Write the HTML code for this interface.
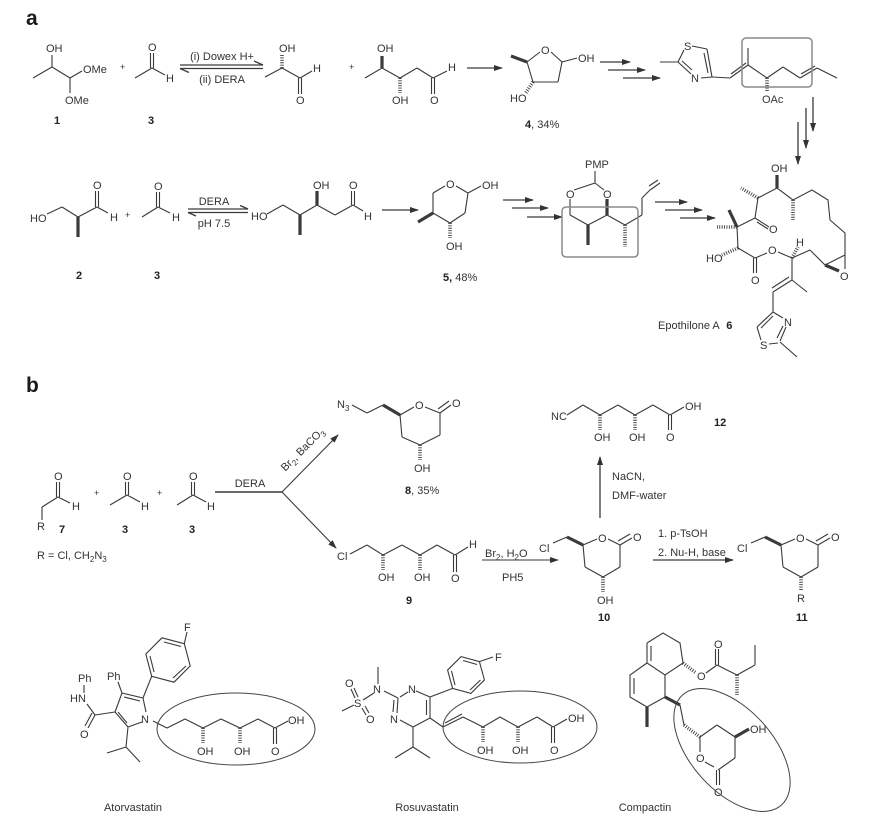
<!DOCTYPE html>
<html><head><meta charset="utf-8">
<style>
html,body{margin:0;padding:0;background:#fff;}
svg{display:block;}
text{font-family:"Liberation Sans",Arial,sans-serif;font-size:11px;fill:#333;}
.b{font-weight:bold;fill:#222;}
.L{font-weight:bold;font-size:21px;fill:#1a1a1a;}
line,polyline,path.s{stroke:#3a3a3a;stroke-width:1.1;fill:none;}
.w{stroke-width:3.2 !important;}
.h{stroke-width:3.6 !important;stroke-dasharray:0.9 1.5;}
.ar{stroke-width:1.3 !important;}
</style></head><body>
<svg width="873" height="816" viewBox="0 0 873 816" xmlns="http://www.w3.org/2000/svg">
<defs>
<marker id="ah" markerUnits="userSpaceOnUse" markerWidth="9" markerHeight="7" refX="8" refY="3.5" orient="auto"><path d="M0,0.5 L9,3.5 L0,6.5 z" fill="#333"/></marker>
</defs>

<!-- ===== a ===== -->
<text x="26" y="25" class="L">a</text>

<!-- compound 1 -->
<line x1="33" y1="78" x2="52" y2="67"/><line x1="52" y1="67" x2="52" y2="55"/>
<line x1="52" y1="67" x2="70" y2="78"/><line x1="70" y1="78" x2="82" y2="71"/>
<line x1="70" y1="78" x2="70" y2="93"/>
<text x="46" y="52">OH</text><text x="83" y="73">OMe</text><text x="65" y="104">OMe</text>
<text x="54" y="124" class="b">1</text>
<text x="120" y="70" style="font-size:9px">+</text>
<!-- 3 -->
<line x1="135" y1="78" x2="152" y2="68"/><line x1="150.5" y1="68" x2="150.5" y2="53"/><line x1="153.5" y1="68" x2="153.5" y2="53"/>
<line x1="152" y1="68" x2="165" y2="75"/>
<text x="148" y="51">O</text><text x="166" y="82">H</text>
<text x="148" y="124" class="b">3</text>
<!-- equilibrium -->
<line class="ar" x1="180" y1="65" x2="263" y2="65"/><line class="ar" x1="263" y1="65" x2="254" y2="61"/>
<line class="ar" x1="180" y1="68.5" x2="263" y2="68.5"/><line class="ar" x1="180" y1="68.5" x2="189" y2="72.5"/>
<text x="222" y="60" text-anchor="middle">(i) Dowex H+</text>
<text x="222" y="83" text-anchor="middle">(ii) DERA</text>
<!-- lactaldehyde -->
<line x1="265" y1="77" x2="282" y2="68"/><line class="h" x1="282" y1="68" x2="282" y2="55"/>
<line x1="282" y1="68" x2="300" y2="78"/><line x1="300" y1="78" x2="312" y2="71"/>
<line x1="298.5" y1="78" x2="298.5" y2="94"/><line x1="301.5" y1="78" x2="301.5" y2="94"/>
<text x="279" y="52">OH</text><text x="313" y="72">H</text><text x="296" y="104">O</text>
<text x="349" y="70" style="font-size:9px">+</text>
<!-- deoxy -->
<line x1="365" y1="78" x2="382" y2="68"/><line class="w" x1="382" y1="68" x2="382" y2="56"/>
<line x1="382" y1="68" x2="400" y2="78"/><line class="h" x1="400" y1="78" x2="400" y2="93"/>
<line x1="400" y1="78" x2="417" y2="68"/><line x1="417" y1="68" x2="433" y2="78"/><line x1="433" y1="78" x2="447" y2="71"/>
<line x1="431.5" y1="78" x2="431.5" y2="94"/><line x1="434.5" y1="78" x2="434.5" y2="94"/>
<text x="377" y="52">OH</text><text x="392" y="104">OH</text><text x="448" y="71">H</text><text x="430" y="104">O</text>
<line class="ar" x1="467" y1="68" x2="502" y2="68" marker-end="url(#ah)"/>
<!-- 4 -->
<line x1="527" y1="62" x2="540" y2="52"/><line x1="551" y1="52" x2="562" y2="62"/>
<line x1="562" y1="62" x2="558" y2="82"/><line x1="558" y1="82" x2="533" y2="82"/><line x1="533" y1="82" x2="527" y2="62"/>
<line class="w" x1="527" y1="62" x2="511" y2="56"/><line x1="562" y1="62" x2="577" y2="58"/>
<line class="h" x1="533" y1="82" x2="525" y2="94"/>
<text x="541" y="54">O</text><text x="578" y="62">OH</text><text x="510" y="102">HO</text>
<text x="525" y="128"><tspan class="b">4</tspan>, 34%</text>
<line class="ar" x1="600" y1="62" x2="630" y2="62" marker-end="url(#ah)"/>
<line class="ar" x1="608" y1="70" x2="645" y2="70" marker-end="url(#ah)"/>
<line class="ar" x1="623" y1="78" x2="660" y2="78" marker-end="url(#ah)"/>
<!-- thiazole fragment -->
<line x1="660" y1="62" x2="678" y2="62"/><line x1="678" y1="62" x2="684" y2="50"/>
<line x1="692" y1="46" x2="707" y2="49"/><line x1="707" y1="49" x2="712" y2="77"/><line x1="704" y1="53" x2="708" y2="73"/>
<line x1="712" y1="77" x2="701" y2="78"/><line x1="691" y1="74" x2="678" y2="62"/><line x1="692" y1="70" x2="682" y2="61"/>
<text x="684" y="50">S</text><text x="691" y="82">N</text>
<line x1="712" y1="77" x2="730" y2="78"/><line x1="730" y1="78" x2="748" y2="65"/><line x1="731" y1="74" x2="746" y2="63"/>
<line x1="748" y1="65" x2="748" y2="48"/><line x1="748" y1="65" x2="767" y2="78"/>
<line class="h" x1="767" y1="78" x2="767" y2="92"/>
<line x1="767" y1="78" x2="783" y2="67"/><line x1="783" y1="67" x2="800" y2="78"/><line x1="800" y1="78" x2="817" y2="68"/><line x1="801" y1="74" x2="815" y2="66"/>
<line x1="817" y1="68" x2="837" y2="78"/>
<text x="762" y="103">OAc</text>
<rect x="742" y="38" width="70" height="49" rx="4" fill="none" stroke="#8a8a8a" stroke-width="1.5"/>
<line class="ar" x1="813" y1="97" x2="813" y2="131" marker-end="url(#ah)"/>
<line class="ar" x1="806" y1="108" x2="806" y2="148" marker-end="url(#ah)"/>
<line class="ar" x1="798" y1="122" x2="798" y2="164" marker-end="url(#ah)"/>

<!-- row 2 -->
<!-- 2 -->
<line x1="47" y1="214" x2="62" y2="207"/><line x1="62" y1="207" x2="78" y2="217"/><line class="w" x1="78" y1="217" x2="78" y2="237"/>
<line x1="78" y1="217" x2="97" y2="207"/><line x1="95.5" y1="207" x2="95.5" y2="191"/><line x1="98.5" y1="207" x2="98.5" y2="191"/>
<line x1="97" y1="207" x2="108" y2="213"/>
<text x="30" y="222">HO</text><text x="93" y="189">O</text><text x="110" y="221">H</text>
<text x="76" y="279" class="b">2</text>
<text x="125" y="218" style="font-size:9px">+</text>
<line x1="142" y1="217" x2="158" y2="207"/><line x1="156.5" y1="207" x2="156.5" y2="192"/><line x1="159.5" y1="207" x2="159.5" y2="192"/>
<line x1="158" y1="207" x2="170" y2="213"/>
<text x="154" y="190">O</text><text x="172" y="221">H</text>
<text x="154" y="279" class="b">3</text>
<line class="ar" x1="188" y1="209" x2="248" y2="209"/><line class="ar" x1="248" y1="209" x2="240" y2="205.5"/>
<line class="ar" x1="188" y1="212.5" x2="248" y2="212.5"/><line class="ar" x1="188" y1="212.5" x2="196" y2="216"/>
<text x="214" y="205" text-anchor="middle">DERA</text><text x="214" y="227" text-anchor="middle">pH 7.5</text>
<!-- aldol product -->
<line x1="267" y1="214" x2="283" y2="205"/><line x1="283" y1="205" x2="300" y2="215"/><line class="w" x1="300" y1="215" x2="300" y2="235"/>
<line x1="300" y1="215" x2="317" y2="205"/><line class="w" x1="317" y1="205" x2="317" y2="191"/>
<line x1="317" y1="205" x2="335" y2="215"/><line x1="335" y1="215" x2="353" y2="205"/>
<line x1="351.5" y1="205" x2="351.5" y2="191"/><line x1="354.5" y1="205" x2="354.5" y2="191"/><line x1="353" y1="205" x2="363" y2="211"/>
<text x="251" y="220">HO</text><text x="313" y="189">OH</text><text x="349" y="189">O</text><text x="364" y="220">H</text>
<line class="ar" x1="382" y1="210" x2="418" y2="210" marker-end="url(#ah)"/>
<!-- 5 -->
<line x1="433" y1="193" x2="445" y2="186"/><line x1="456" y1="186" x2="468" y2="193"/>
<line x1="468" y1="193" x2="465" y2="213"/><line x1="465" y1="213" x2="450" y2="223"/><line x1="450" y1="223" x2="433" y2="213"/><line x1="433" y1="213" x2="433" y2="193"/>
<line x1="468" y1="193" x2="481" y2="186"/><line class="w" x1="433" y1="213" x2="418" y2="222"/>
<line class="h" x1="450" y1="223" x2="450" y2="238"/>
<text x="446" y="188">O</text><text x="482" y="189">OH</text><text x="446" y="250">OH</text>
<text x="443" y="281"><tspan class="b">5,</tspan> 48%</text>
<line class="ar" x1="503" y1="200" x2="533" y2="200" marker-end="url(#ah)"/>
<line class="ar" x1="512" y1="208" x2="548" y2="208" marker-end="url(#ah)"/>
<line class="ar" x1="527" y1="217" x2="562" y2="217" marker-end="url(#ah)"/>
<!-- PMP acetal -->
<text x="585" y="168">PMP</text>
<line x1="595" y1="171" x2="595" y2="183"/><line x1="595" y1="183" x2="574" y2="190"/><line x1="595" y1="183" x2="604" y2="190"/>
<text x="566" y="198">O</text><text x="603" y="198">O</text>
<line x1="570" y1="199" x2="570" y2="215"/><line x1="570" y1="215" x2="588" y2="225"/><line class="w" x1="588" y1="225" x2="588" y2="245"/>
<line x1="588" y1="225" x2="607" y2="215"/><line class="w" x1="607" y1="215" x2="607" y2="199"/>
<line x1="607" y1="215" x2="625" y2="225"/><line class="h" x1="625" y1="225" x2="625" y2="247"/>
<line x1="625" y1="225" x2="642" y2="215"/><line x1="642" y1="215" x2="642" y2="198"/><line x1="642" y1="198" x2="650" y2="190"/>
<line x1="650" y1="190" x2="660" y2="183"/><line x1="649" y1="186" x2="658" y2="180"/>
<rect x="562" y="207" width="76" height="50" rx="4" fill="none" stroke="#8a8a8a" stroke-width="1.5"/>
<line class="ar" x1="655" y1="202" x2="687" y2="202" marker-end="url(#ah)"/>
<line class="ar" x1="665" y1="210" x2="702" y2="210" marker-end="url(#ah)"/>
<line class="ar" x1="680" y1="218" x2="715" y2="218" marker-end="url(#ah)"/>
<!-- Epothilone -->
<polyline points="758,198 777,188 793,200 812,190 828,200 830,220 845,233 845,255"/>
<line class="w" x1="777" y1="188" x2="777" y2="175"/>
<text x="771" y="172">OH</text>
<line class="h" x1="758" y1="198" x2="741" y2="188"/>
<line class="h" x1="793" y1="200" x2="793" y2="220"/>
<line x1="758" y1="198" x2="755" y2="218"/>
<line x1="755" y1="218" x2="769" y2="227"/><line x1="757" y1="222" x2="768" y2="229"/>
<text x="769" y="233">O</text>
<line x1="755" y1="218" x2="737" y2="227"/>
<line class="w" x1="737" y1="227" x2="729" y2="210"/><line class="h" x1="737" y1="227" x2="717" y2="227"/>
<line x1="737" y1="227" x2="738" y2="248"/>
<line class="h" x1="738" y1="248" x2="722" y2="255"/><text x="706" y="262">HO</text>
<line x1="738" y1="248" x2="755" y2="258"/>
<line x1="753.5" y1="258" x2="753.5" y2="273"/><line x1="756.5" y1="258" x2="756.5" y2="273"/>
<text x="751" y="284">O</text>
<line x1="755" y1="258" x2="767" y2="253"/><text x="768" y="254">O</text>
<line x1="778" y1="252" x2="792" y2="258"/>
<line class="h" x1="792" y1="258" x2="798" y2="247"/><text x="796" y="246">H</text>
<line x1="792" y1="258" x2="810" y2="250"/><line x1="810" y1="250" x2="825" y2="265"/>
<line x1="825" y1="265" x2="845" y2="255"/><line class="w" x1="825" y1="265" x2="839" y2="271"/><line x1="845" y1="255" x2="845" y2="269"/>
<text x="840" y="280">O</text>
<line x1="792" y1="258" x2="792" y2="280"/><line x1="792" y1="280" x2="807" y2="292"/>
<line x1="792" y1="280" x2="773" y2="292"/><line x1="789" y1="277" x2="772" y2="288"/>
<line x1="773" y1="292" x2="773" y2="312"/>
<line x1="773" y1="312" x2="783" y2="318"/><line x1="786" y1="327" x2="780" y2="341"/><line x1="783" y1="326" x2="777" y2="338"/>
<line x1="778" y1="343" x2="769" y2="344"/><line x1="761" y1="340" x2="757" y2="327"/>
<line x1="757" y1="327" x2="773" y2="312"/><line x1="761" y1="328" x2="773" y2="316"/>
<line x1="780" y1="342" x2="797" y2="357"/>
<text x="784" y="326">N</text><text x="760" y="349">S</text>
<text x="658" y="329">Epothilone A <tspan class="b" dx="4">6</tspan></text>

<!-- ===== b ===== -->
<text x="26" y="392" class="L">b</text>
<!-- 7 -->
<line x1="42" y1="520" x2="42" y2="507"/><line x1="42" y1="507" x2="58" y2="497"/>
<line x1="56.5" y1="497" x2="56.5" y2="482"/><line x1="59.5" y1="497" x2="59.5" y2="482"/><line x1="58" y1="497" x2="70" y2="503"/>
<text x="54" y="480">O</text><text x="72" y="510">H</text><text x="37" y="530">R</text>
<text x="59" y="533" class="b">7</text>
<text x="94" y="496" style="font-size:9px">+</text>
<line x1="110" y1="505" x2="127" y2="495"/><line x1="125.5" y1="495" x2="125.5" y2="482"/><line x1="128.5" y1="495" x2="128.5" y2="482"/><line x1="127" y1="495" x2="140" y2="502"/>
<text x="123" y="480">O</text><text x="141" y="510">H</text><text x="122" y="533" class="b">3</text>
<text x="157" y="496" style="font-size:9px">+</text>
<line x1="177" y1="505" x2="193" y2="495"/><line x1="191.5" y1="495" x2="191.5" y2="482"/><line x1="194.5" y1="495" x2="194.5" y2="482"/><line x1="193" y1="495" x2="206" y2="502"/>
<text x="189" y="480">O</text><text x="207" y="510">H</text><text x="189" y="533" class="b">3</text>
<text x="37" y="559">R = Cl, CH<tspan dy="3" style="font-size:8px">2</tspan><tspan dy="-3">N</tspan><tspan dy="3" style="font-size:8px">3</tspan></text>
<line x1="215" y1="492" x2="282" y2="492" style="stroke-width:1.5"/>
<text x="250" y="487" text-anchor="middle">DERA</text>
<line x1="282" y1="492" x2="338" y2="435" marker-end="url(#ah)"/>
<line x1="282" y1="492" x2="336" y2="548" marker-end="url(#ah)"/>
<text transform="translate(305,452) rotate(-45)" text-anchor="middle">Br<tspan dy="3" style="font-size:8px">2</tspan><tspan dy="-3">, BaCO</tspan><tspan dy="3" style="font-size:8px">3</tspan></text>
<!-- 8 -->
<text x="337" y="408">N<tspan dy="3" style="font-size:8px">3</tspan></text>
<line x1="352" y1="405" x2="367" y2="413"/><line x1="367" y1="413" x2="383" y2="405"/><line class="w" x1="383" y1="405" x2="400" y2="415"/>
<line x1="400" y1="415" x2="414" y2="407"/><line x1="425" y1="407" x2="440" y2="413"/>
<line x1="440" y1="413" x2="451" y2="405"/><line x1="438" y1="409" x2="449" y2="401"/>
<line x1="440" y1="413" x2="440" y2="435"/><line x1="440" y1="435" x2="420" y2="445"/><line x1="420" y1="445" x2="402" y2="437"/><line x1="402" y1="437" x2="400" y2="415"/>
<line class="h" x1="420" y1="445" x2="420" y2="460"/>
<text x="415" y="409">O</text><text x="452" y="407">O</text><text x="414" y="472">OH</text>
<text x="405" y="494"><tspan class="b">8</tspan>, 35%</text>
<!-- 9 -->
<text x="337" y="560">Cl</text>
<line x1="350" y1="554" x2="367" y2="545"/><line x1="367" y1="545" x2="383" y2="555"/><line class="h" x1="383" y1="555" x2="383" y2="570"/>
<line x1="383" y1="555" x2="402" y2="545"/><line x1="402" y1="545" x2="420" y2="555"/><line class="h" x1="420" y1="555" x2="420" y2="570"/>
<line x1="420" y1="555" x2="437" y2="545"/><line x1="437" y1="545" x2="455" y2="555"/>
<line x1="453.5" y1="555" x2="453.5" y2="572"/><line x1="456.5" y1="555" x2="456.5" y2="572"/><line x1="455" y1="555" x2="468" y2="547"/>
<text x="378" y="581">OH</text><text x="414" y="581">OH</text><text x="451" y="582">O</text><text x="469" y="548">H</text>
<text x="406" y="604" class="b">9</text>
<line x1="482" y1="560" x2="558" y2="560" marker-end="url(#ah)"/>
<text x="485" y="557">Br<tspan dy="3" style="font-size:8px">2</tspan><tspan dy="-3">, H</tspan><tspan dy="3" style="font-size:8px">2</tspan><tspan dy="-3">O</tspan></text>
<text x="502" y="581">PH5</text>
<!-- 10 -->
<text x="539" y="552">Cl</text>
<line x1="553" y1="543" x2="567" y2="537"/><line class="w" x1="567" y1="537" x2="583" y2="545"/>
<line x1="583" y1="545" x2="597" y2="539"/><line x1="608" y1="539" x2="620" y2="545"/>
<line x1="620" y1="545" x2="632" y2="538"/><line x1="618" y1="541" x2="630" y2="534"/>
<line x1="620" y1="545" x2="620" y2="567"/><line x1="620" y1="567" x2="603" y2="577"/><line x1="603" y1="577" x2="585" y2="567"/><line x1="585" y1="567" x2="583" y2="545"/>
<line class="h" x1="603" y1="577" x2="603" y2="592"/>
<text x="598" y="542">O</text><text x="633" y="541">O</text><text x="597" y="604">OH</text>
<text x="598" y="621" class="b">10</text>
<line class="ar" x1="600" y1="518" x2="600" y2="457" marker-end="url(#ah)"/>
<text x="612" y="480">NaCN,</text><text x="612" y="499">DMF-water</text>
<!-- 12 -->
<text x="551" y="420">NC</text>
<line x1="567" y1="415" x2="583" y2="405"/><line x1="583" y1="405" x2="600" y2="415"/><line class="h" x1="600" y1="415" x2="600" y2="430"/>
<line x1="600" y1="415" x2="618" y2="405"/><line x1="618" y1="405" x2="635" y2="415"/><line class="h" x1="635" y1="415" x2="635" y2="430"/>
<line x1="635" y1="415" x2="653" y2="405"/><line x1="653" y1="405" x2="670" y2="415"/>
<line x1="668.5" y1="415" x2="668.5" y2="430"/><line x1="671.5" y1="415" x2="671.5" y2="430"/><line x1="670" y1="415" x2="684" y2="407"/>
<text x="594" y="441">OH</text><text x="629" y="441">OH</text><text x="666" y="441">O</text><text x="685" y="410">OH</text>
<text x="714" y="426" class="b">12</text>
<line class="ar" x1="653" y1="560" x2="733" y2="560" marker-end="url(#ah)"/>
<text x="658" y="537">1. p-TsOH</text><text x="658" y="556">2. Nu-H, base</text>
<!-- 11 -->
<text x="737" y="552">Cl</text>
<line x1="751" y1="543" x2="765" y2="537"/><line class="w" x1="765" y1="537" x2="781" y2="545"/>
<line x1="781" y1="545" x2="795" y2="539"/><line x1="806" y1="539" x2="818" y2="545"/>
<line x1="818" y1="545" x2="830" y2="538"/><line x1="816" y1="541" x2="828" y2="534"/>
<line x1="818" y1="545" x2="818" y2="567"/><line x1="818" y1="567" x2="801" y2="577"/><line x1="801" y1="577" x2="783" y2="567"/><line x1="783" y1="567" x2="781" y2="545"/>
<line class="h" x1="801" y1="577" x2="801" y2="591"/>
<text x="796" y="542">O</text><text x="831" y="541">O</text><text x="797" y="602">R</text>
<text x="796" y="621" class="b">11</text>

<!-- Atorvastatin -->
<line x1="122" y1="693" x2="143" y2="698"/><line x1="124" y1="697" x2="140" y2="701"/>
<line x1="143" y1="698" x2="146" y2="712"/><line x1="142" y1="722" x2="128" y2="727"/>
<line x1="128" y1="727" x2="115" y2="712"/><line x1="127" y1="723" x2="118" y2="712"/>
<line x1="115" y1="712" x2="122" y2="693"/>
<text x="141" y="723">N</text>
<line x1="122" y1="693" x2="118" y2="682"/><text x="107" y="680">Ph</text>
<line x1="115" y1="712" x2="95" y2="715"/><line x1="95" y1="715" x2="87" y2="704"/>
<line x1="95" y1="715" x2="88" y2="728"/><line x1="92" y1="713" x2="85" y2="726"/>
<text x="70" y="702">HN</text><line x1="84" y1="685" x2="84" y2="693"/><text x="78" y="682">Ph</text>
<text x="80" y="738">O</text>
<line x1="128" y1="727" x2="126" y2="747"/><line x1="126" y1="747" x2="107" y2="753"/><line x1="126" y1="747" x2="140" y2="762"/>
<line x1="143" y1="698" x2="151.7" y2="676.3"/>
<polygon points="162,637.8 184.3,643.7 190.2,666 174,682.2 151.7,676.3 145.8,654" fill="none" stroke="#3a3a3a" stroke-width="1.1"/>
<line x1="164" y1="642" x2="181" y2="646.5"/><line x1="186" y1="666" x2="173" y2="678"/><line x1="150" y1="656" x2="154" y2="672"/>
<line x1="184.3" y1="643.7" x2="187" y2="632"/><text x="184" y="631">F</text>
<ellipse cx="236" cy="729" rx="79" ry="36" fill="none" stroke="#444" stroke-width="1"/>
<polyline points="153,721 167,728 185,719 203,728 221,719 240,728 258,719 275,728 288,721"/>
<line class="h" x1="203" y1="728" x2="203" y2="743"/><line class="h" x1="240" y1="728" x2="240" y2="743"/>
<line x1="273.5" y1="728" x2="273.5" y2="744"/><line x1="276.5" y1="728" x2="276.5" y2="744"/>
<text x="197" y="755">OH</text><text x="234" y="755">OH</text><text x="271" y="755">O</text><text x="288" y="724">OH</text>
<text x="133" y="811" text-anchor="middle">Atorvastatin</text>

<!-- Rosuvastatin -->
<line x1="400" y1="697" x2="408" y2="692"/><line x1="416" y1="691" x2="430" y2="697"/>
<line x1="430" y1="697" x2="430" y2="718"/><line x1="426.5" y1="700" x2="426.5" y2="715"/>
<line x1="430" y1="718" x2="413" y2="727"/><line x1="413" y1="727" x2="400" y2="720"/>
<line x1="397" y1="713" x2="398" y2="698"/><line x1="393" y1="712" x2="394" y2="700"/>
<text x="408" y="693">N</text><text x="390" y="723">N</text>
<line x1="398" y1="698" x2="384" y2="691"/><text x="373" y="693">N</text>
<line x1="378" y1="684" x2="378" y2="667"/>
<line x1="374" y1="693" x2="363" y2="700"/><text x="354" y="707">S</text>
<line x1="355" y1="698" x2="351" y2="689"/><line x1="358" y1="697" x2="354" y2="688"/><text x="345" y="687">O</text>
<line x1="362" y1="708" x2="366" y2="715"/><line x1="365" y1="706" x2="369" y2="713"/><text x="366" y="723">O</text>
<line x1="354" y1="705" x2="342" y2="711"/>
<line x1="413" y1="727" x2="413" y2="747"/><line x1="413" y1="747" x2="395" y2="758"/><line x1="413" y1="747" x2="430" y2="758"/>
<line x1="430" y1="697" x2="452.6" y2="688.4"/>
<polygon points="461.1,656.6 479.4,661.6 484.4,679.9 470.9,693.4 452.6,688.4 447.6,670.1" fill="none" stroke="#3a3a3a" stroke-width="1.1"/>
<line x1="463" y1="660.5" x2="477" y2="664.5"/><line x1="480.5" y1="680" x2="470" y2="690"/><line x1="451.5" y1="671" x2="455" y2="685"/>
<line x1="479.4" y1="661.6" x2="493" y2="657"/><text x="495" y="661">F</text>
<line x1="430" y1="718" x2="443" y2="727"/><line x1="443" y1="727" x2="463" y2="717"/><line x1="445" y1="723" x2="462" y2="714"/>
<line x1="463" y1="717" x2="483" y2="727"/><line class="h" x1="483" y1="727" x2="483" y2="742"/>
<line x1="483" y1="727" x2="500" y2="717"/><line x1="500" y1="717" x2="518" y2="727"/><line class="h" x1="518" y1="727" x2="518" y2="742"/>
<line x1="518" y1="727" x2="537" y2="717"/><line x1="537" y1="717" x2="553" y2="727"/>
<line x1="551.5" y1="727" x2="551.5" y2="743"/><line x1="554.5" y1="727" x2="554.5" y2="743"/><line x1="553" y1="727" x2="567" y2="719"/>
<text x="477" y="754">OH</text><text x="512" y="754">OH</text><text x="550" y="754">O</text><text x="568" y="722">OH</text>
<ellipse cx="520" cy="727" rx="77" ry="36" fill="none" stroke="#444" stroke-width="1"/>
<text x="427" y="811" text-anchor="middle">Rosuvastatin</text>

<!-- Compactin -->
<polyline points="647,643 663,633 680,643 683,663 665,675 647,663 647,643"/>
<line x1="651" y1="646" x2="651" y2="661"/>
<polyline points="647,663 630,675 630,697 647,707 665,697 665,675"/>
<line x1="634" y1="678" x2="634" y2="694"/>
<line class="w" x1="647" y1="707" x2="647" y2="727"/>
<line class="h" x1="683" y1="663" x2="696" y2="673"/><text x="697" y="680">O</text>
<line x1="706" y1="673" x2="717" y2="665"/>
<line x1="715.5" y1="665" x2="715.5" y2="649"/><line x1="718.5" y1="665" x2="718.5" y2="649"/><text x="714" y="648">O</text>
<line x1="717" y1="665" x2="737" y2="675"/><line class="h" x1="737" y1="675" x2="737" y2="695"/>
<line x1="737" y1="675" x2="755" y2="665"/><line x1="755" y1="665" x2="755" y2="645"/>
<line class="w" x1="665" y1="697" x2="680" y2="705"/>
<line x1="680" y1="705" x2="684" y2="725"/><line class="h" x1="684" y1="725" x2="700" y2="737"/>
<line x1="700" y1="737" x2="717" y2="725"/><line x1="717" y1="725" x2="735" y2="737"/>
<line class="w" x1="735" y1="737" x2="749" y2="729"/><text x="750" y="733">OH</text>
<line x1="735" y1="737" x2="735" y2="758"/><line x1="735" y1="758" x2="718" y2="770"/>
<line x1="716.5" y1="770" x2="716.5" y2="785"/><line x1="719.5" y1="770" x2="719.5" y2="785"/>
<text x="714" y="796">O</text>
<line x1="714" y1="767" x2="705" y2="762"/><text x="696" y="762">O</text>
<line x1="700" y1="752" x2="700" y2="737"/>
<ellipse cx="732" cy="750" rx="74" ry="41" transform="rotate(48 732 750)" fill="none" stroke="#444" stroke-width="1"/>
<text x="645" y="811" text-anchor="middle">Compactin</text>
</svg>
</body></html>
